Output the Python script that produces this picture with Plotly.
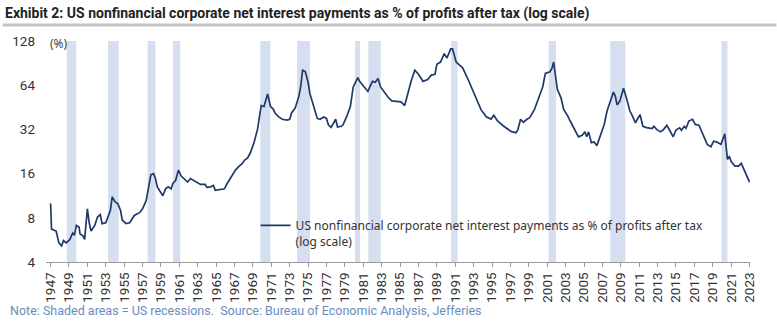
import plotly.graph_objects as go

# Data (decimal years, % of profits after tax)
years = [1947.0, 1947.1, 1947.6, 1947.9, 1948.2, 1948.4, 1948.7, 1949.1, 1949.4, 1949.6,
         1949.8, 1950.1, 1950.2, 1950.5, 1950.7, 1951.0, 1951.2, 1951.4, 1951.8, 1952.1,
         1952.4, 1952.6, 1953.0, 1953.2, 1953.5, 1953.7, 1954.0, 1954.3, 1954.6, 1954.8,
         1955.2, 1955.6, 1956.1, 1956.7, 1957.0, 1957.4, 1957.7, 1957.9, 1958.2, 1958.4,
         1958.6, 1959.0, 1959.2, 1959.5, 1959.8, 1960.1, 1960.3, 1960.6, 1960.9, 1961.2,
         1961.5, 1961.9, 1962.2, 1962.8, 1963.3, 1963.8, 1964.0, 1964.4, 1964.7, 1964.9,
         1965.3, 1965.9, 1966.2, 1966.6, 1967.1, 1967.5, 1967.8, 1968.1, 1968.4, 1968.7,
         1969.1, 1969.5, 1969.7, 1969.9, 1970.2, 1970.4, 1970.6, 1970.9, 1971.2, 1971.4,
         1971.8, 1972.2, 1972.7, 1973.0, 1973.2, 1973.6, 1974.0, 1974.2, 1974.4, 1974.7,
         1975.0, 1975.2, 1975.6, 1976.0, 1976.3, 1976.7, 1977.0, 1977.2, 1977.5, 1977.8,
         1978.0, 1978.2, 1978.6, 1978.8, 1979.2, 1979.6, 1979.9, 1980.2, 1980.4, 1980.6,
         1981.0, 1981.5, 1981.7, 1982.0, 1982.3, 1982.6, 1982.9, 1983.3, 1983.7, 1984.1,
         1984.6, 1985.1, 1985.5, 1985.9, 1986.2, 1986.6, 1987.0, 1987.5, 1988.0, 1988.4,
         1988.8, 1989.0, 1989.4, 1989.8, 1990.1, 1990.5, 1990.7, 1991.1, 1991.6, 1991.8,
         1992.4, 1992.9, 1993.3, 1993.8, 1994.4, 1994.9, 1995.2, 1995.6, 1996.2, 1996.6,
         1997.1, 1997.6, 1997.8, 1998.1, 1998.4, 1998.8, 1999.1, 1999.6, 2000.0, 2000.5,
         2000.8, 2001.3, 2001.5, 2001.7, 2002.1, 2002.5, 2002.8, 2003.2, 2003.5, 2004.0,
         2004.4, 2004.8, 2005.1, 2005.3, 2005.5, 2005.8, 2006.1, 2006.4, 2006.8, 2007.2,
         2007.5, 2007.9, 2008.2, 2008.4, 2008.6, 2008.9, 2009.1, 2009.3, 2009.6, 2010.0,
         2010.2, 2010.6, 2010.8, 2011.1, 2011.4, 2011.8, 2012.4, 2012.6, 2012.9, 2013.3,
         2013.6, 2014.0, 2014.3, 2014.7, 2015.0, 2015.4, 2015.6, 2015.9, 2016.1, 2016.4,
         2016.8, 2017.1, 2017.5, 2018.0, 2018.4, 2018.8, 2019.1, 2019.4, 2019.9, 2020.3,
         2020.6, 2020.8, 2021.0, 2021.4, 2021.8, 2022.1, 2022.4, 2022.7, 2023.0]
values = [10.0, 6.7, 6.5, 5.4, 5.15, 5.6, 5.4, 5.7, 6.3, 6.1,
          7.1, 6.9, 6.2, 6.05, 5.7, 9.2, 7.4, 6.5, 7.1, 8.1,
          8.4, 7.3, 7.4, 8.1, 9.0, 11.1, 10.3, 10.0, 9.0, 7.7,
          7.3, 7.4, 8.3, 8.7, 9.2, 10.5, 13.0, 15.7, 16.0, 14.8,
          13.0, 11.7, 11.3, 12.6, 13.0, 12.6, 13.7, 14.4, 16.9, 15.4,
          14.8, 14.0, 14.8, 14.0, 13.5, 13.5, 12.9, 13.0, 13.3, 12.3,
          12.4, 12.6, 13.7, 15.2, 16.9, 18.0, 18.6, 19.8, 20.4, 22.0,
          25.8, 32.0, 38.0, 46.5, 45.8, 50.0, 55.8, 46.0, 44.0, 41.4,
          38.9, 37.5, 37.0, 37.5, 41.4, 44.8, 53.9, 63.0, 81.0, 79.0,
          67.0, 56.0, 45.8, 38.0, 37.5, 38.9, 38.0, 34.4, 33.0, 35.2,
          37.5, 33.2, 33.6, 34.4, 39.2, 46.0, 62.0, 68.0, 72.0, 68.0,
          63.0, 58.0, 62.0, 68.0, 67.0, 71.0, 62.0, 57.0, 53.0, 50.0,
          49.6, 49.3, 46.5, 58.8, 68.0, 81.0, 76.0, 68.0, 70.0, 75.0,
          76.0, 89.0, 92.0, 105.0, 98.0, 113.0, 113.0, 92.0, 86.0, 84.0,
          70.0, 58.8, 51.0, 43.6, 38.9, 37.6, 39.9, 36.5, 33.9, 32.7,
          30.9, 30.4, 31.7, 37.5, 35.8, 37.5, 38.5, 43.6, 51.0, 62.0,
          77.0, 79.0, 83.0, 92.0, 60.0, 52.5, 43.6, 39.9, 36.5, 32.0,
          28.5, 29.2, 30.8, 28.5, 30.8, 26.0, 26.3, 24.8, 29.0, 34.6,
          42.5, 50.0, 57.5, 54.0, 47.0, 50.0, 55.8, 61.0, 52.5, 42.5,
          40.3, 35.5, 37.5, 40.3, 33.6, 32.9, 32.4, 33.6, 32.0, 30.8,
          31.7, 34.1, 31.7, 28.5, 31.7, 32.8, 31.6, 33.6, 32.6, 36.5,
          37.5, 34.6, 34.2, 28.5, 25.3, 24.4, 26.6, 26.3, 25.3, 29.9,
          20.0, 21.0, 19.3, 18.0, 18.0, 18.8, 16.9, 15.2, 14.0]

rec_start = [1948.75, 1953.25, 1957.55, 1960.3, 1969.8, 1973.8, 1980.1, 1981.55,
             1990.55, 2001.15, 2007.85, 2019.95]
rec_end = [1949.8, 1954.4, 1958.4, 1961.1, 1970.9, 1975.2, 1980.65, 1982.9,
           1991.25, 2001.95, 2009.5, 2020.6]

x_ticks = list(range(1947, 2024, 2))
y_ticks = [4, 8, 16, 32, 64, 128]

series_name = ("US nonfinancial corporate net interest payments as % of profits after tax"
               "<br>(log scale)")
title_text = ("<b>Exhibit 2: US nonfinancial corporate net interest payments as % of "
              "profits after tax (log scale)</b>")
note_text = ("Note: Shaded areas = US recessions.  Source: Bureau of Economic Analysis, "
             "Jefferies")

W, H = 777, 321
ML, MR, MT, MB = 43.5, 26.5, 41, 59
PW, PH = W - ML - MR, H - MT - MB


def px(xp):
    return (xp - ML) / PW


def py(yp):
    return (H - MB - yp) / PH


fig = go.Figure()
fig.add_trace(go.Scatter(
    x=years, y=values, mode="lines", name=series_name,
    line=dict(color="#1F3A68", width=1.7), showlegend=True))

shapes = []
for s, e in zip(rec_start, rec_end):
    shapes.append(dict(type="rect", xref="x", yref="paper", x0=s, x1=e, y0=0, y1=1,
                       fillcolor="#D6DFF0", line=dict(width=0), layer="below"))
shapes.append(dict(type="line", xref="paper", yref="paper", x0=px(0), x1=px(W),
                   y0=py(25), y1=py(25), line=dict(color="#C4C4C4", width=3)))

fig.update_layout(
    width=W, height=H,
    margin=dict(l=ML, r=MR, t=MT, b=MB, pad=0),
    paper_bgcolor="white", plot_bgcolor="white",
    shapes=shapes,
    font=dict(family="Roboto", size=13, color="#333333"),
    title=dict(text=title_text, xref="container", yref="container",
               x=5 / W, xanchor="left", y=1 - 13 / H, yanchor="middle",
               font=dict(family="Roboto", size=14, color="#222222")),
    xaxis=dict(range=[1946.5, 2023.05], tickmode="array", tickvals=x_ticks,
               ticktext=[str(t) for t in x_ticks], tickangle=-90,
               ticks="outside", ticklen=4, tickcolor="#999999",
               showline=True, linecolor="#999999", linewidth=1,
               showgrid=False, zeroline=False,
               tickfont=dict(family="Roboto", size=13.5, color="#333333")),
    yaxis=dict(type="log", range=[0.60206, 2.10721], tickmode="array",
               tickvals=y_ticks, ticktext=[str(t) for t in y_ticks],
               showgrid=False, zeroline=False, showline=False, ticks="",
               ticklabelstandoff=10,
               tickfont=dict(family="Roboto", size=13.5, color="#333333")),
    legend=dict(x=px(254), y=py(211), xanchor="left", yanchor="top",
                bgcolor="rgba(0,0,0,0)", valign="top",
                font=dict(family="Noto Sans", size=12, color="#333333")),
    annotations=[
        dict(text="(%)", xref="paper", yref="paper", x=px(46), y=py(44),
             xanchor="left", yanchor="middle", showarrow=False,
             font=dict(family="Noto Sans", size=12, color="#444444")),
        dict(text=note_text, xref="paper", yref="paper", x=px(5), y=py(310),
             xanchor="left", yanchor="middle", showarrow=False,
             font=dict(family="Roboto", size=12.5, color="#6A8CC0")),
    ],
)

fig.write_html("out.html")
